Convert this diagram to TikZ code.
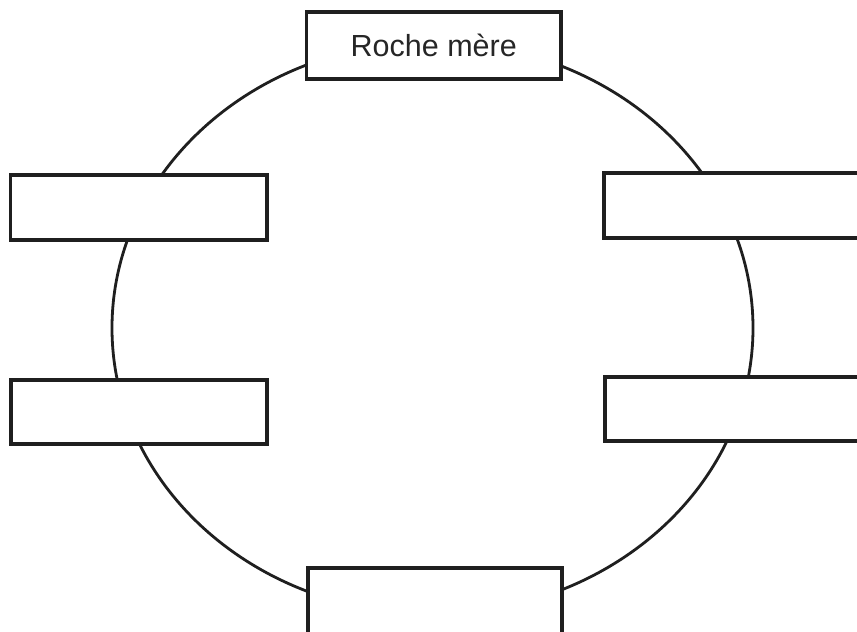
\documentclass[tikz,border=0pt]{standalone}
\usepackage{fontspec}
\setmainfont{Liberation Sans}
\begin{document}
\begin{tikzpicture}[x=1pt,y=-1pt,
  ink/.style={draw=black!88},
  cyclebox/.style={ink, line width=3.2pt, fill=white, rectangle, inner sep=0pt, text=black!85, font=\fontsize{30.5}{36}\selectfont},
  cycleline/.style={ink, line width=2.8pt}]
\useasboundingbox (0,0) rectangle (857,632);
\fill[white] (0,0) rectangle (857,632);
\draw[cycleline] (432.5,328) ellipse [x radius=320.5pt, y radius=286pt];
\node[cyclebox, minimum width=254.5pt, minimum height=67pt] (top) at (433.75,45.5) {Roche mère};
\node[cyclebox, minimum width=256.5pt, minimum height=65pt] (leftup) at (138.75,207.5) {};
\node[cyclebox, minimum width=256pt, minimum height=64pt] (leftlow) at (139,412) {};
\node[cyclebox, minimum width=266pt, minimum height=65pt] (rightup) at (737,205.5) {};
\node[cyclebox, minimum width=266pt, minimum height=64pt] (rightlow) at (738,409) {};
\node[cyclebox, minimum width=254pt, minimum height=67pt] (bottom) at (435,601.5) {};
\end{tikzpicture}
\end{document}
